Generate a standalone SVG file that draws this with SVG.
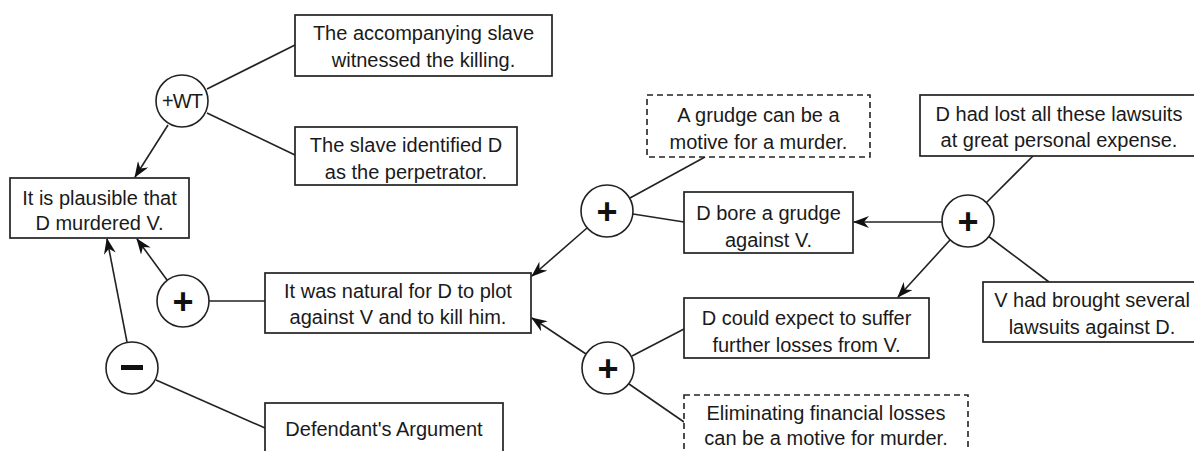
<svg xmlns="http://www.w3.org/2000/svg" width="1194" height="451" viewBox="0 0 1194 451">
<style>
  .box{fill:#fff;stroke:#222;stroke-width:1.7}
  .dash{fill:#fff;stroke:#222;stroke-width:1.6;stroke-dasharray:6 4}
  .circ{fill:#fff;stroke:#222;stroke-width:1.6}
  .t{font-family:"Liberation Sans",Arial,sans-serif;font-size:20px;fill:#1a1a1a;text-anchor:middle}
  .sym{font-family:"Liberation Sans",Arial,sans-serif;font-weight:bold;fill:#111;text-anchor:middle}
  .wt{font-family:"Liberation Sans",Arial,sans-serif;font-size:20px;fill:#1a1a1a;text-anchor:middle;letter-spacing:-1px}
  .ln{stroke:#222;stroke-width:1.6;fill:none}
  .ar{stroke:#222;stroke-width:1.6;fill:none;marker-end:url(#arr)}
</style>
<defs>
  <marker id="arr" viewBox="0 0 16 12" refX="15" refY="6" markerWidth="16" markerHeight="12" orient="auto" markerUnits="userSpaceOnUse">
    <path d="M0,0 L16,6 L0,12 L5,6 z" fill="#111"/>
  </marker>
</defs>
<rect width="1194" height="451" fill="#fff"/>

<g id="connectors">
  <line class="ar" x1="168" y1="125" x2="135" y2="177"/>
  <line class="ln" x1="207" y1="89" x2="295" y2="45"/>
  <line class="ln" x1="207" y1="113" x2="295" y2="155"/>
  <line class="ar" x1="167" y1="280" x2="137" y2="239"/>
  <line class="ar" x1="127" y1="342" x2="107" y2="239"/>
  <line class="ln" x1="209" y1="301" x2="265" y2="301"/>
  <line class="ln" x1="156" y1="380" x2="265" y2="428"/>
  <line class="ar" x1="587" y1="228" x2="532" y2="276"/>
  <line class="ln" x1="630" y1="198" x2="705" y2="157"/>
  <line class="ln" x1="633" y1="214" x2="684" y2="222"/>
  <line class="ar" x1="942" y1="222" x2="854" y2="222"/>
  <line class="ln" x1="986" y1="203" x2="1033" y2="156"/>
  <line class="ar" x1="950" y1="240" x2="898" y2="297"/>
  <line class="ln" x1="988" y1="236" x2="1049" y2="282"/>
  <line class="ar" x1="586" y1="354" x2="532" y2="318"/>
  <line class="ln" x1="632" y1="356" x2="684" y2="329"/>
  <line class="ln" x1="629" y1="384" x2="684" y2="422"/>
</g>

<g id="n-witnessed">
  <rect class="box" x="295" y="15" width="257" height="61"/>
  <text class="t" x="423.5" y="40">The accompanying slave</text>
  <text class="t" x="423.5" y="67">witnessed the killing.</text>
</g>
<g id="n-identified">
  <rect class="box" x="295" y="127" width="222" height="58"/>
  <text class="t" x="406" y="152">The slave identified D</text>
  <text class="t" x="406" y="179">as the perpetrator.</text>
</g>
<g id="n-wt">
  <circle class="circ" cx="182" cy="101" r="26"/>
  <text class="wt" x="182" y="108">+WT</text>
</g>
<g id="n-plausible">
  <rect class="box" x="10" y="178" width="179" height="60"/>
  <text class="t" x="99.5" y="205">It is plausible that</text>
  <text class="t" x="99.5" y="230">D murdered V.</text>
</g>
<g id="n-plusA">
  <circle class="circ" cx="183" cy="301" r="26"/>
  <text class="sym" font-size="36" x="183" y="314">+</text>
</g>
<g id="n-minus">
  <circle class="circ" cx="132" cy="368" r="26"/>
  <rect x="121" y="365" width="22" height="5" fill="#111"/>
</g>
<g id="n-natural">
  <rect class="box" x="265" y="273" width="266" height="60"/>
  <text class="t" x="398" y="298">It was natural for D to plot</text>
  <text class="t" x="398" y="324">against V and to kill him.</text>
</g>
<g id="n-defendant">
  <rect class="box" x="265" y="403" width="238" height="56"/>
  <text class="t" x="384" y="436">Defendant's Argument</text>
</g>
<g id="n-plusB">
  <circle class="circ" cx="607" cy="211" r="26"/>
  <text class="sym" font-size="36" x="607" y="224">+</text>
</g>
<g id="n-grudge-motive">
  <rect class="dash" x="647" y="95" width="223" height="62"/>
  <text class="t" x="758.5" y="122">A grudge can be a</text>
  <text class="t" x="758.5" y="149">motive for a murder.</text>
</g>
<g id="n-bore">
  <rect class="box" x="684" y="192" width="169" height="61"/>
  <text class="t" x="768.5" y="220">D bore a grudge</text>
  <text class="t" x="768.5" y="247">against V.</text>
</g>
<g id="n-plusC">
  <circle class="circ" cx="968" cy="221" r="26"/>
  <text class="sym" font-size="36" x="968" y="234">+</text>
</g>
<g id="n-lost">
  <rect class="box" x="920" y="95" width="280" height="61"/>
  <text class="t" x="1059" y="121">D had lost all these lawsuits</text>
  <text class="t" x="1059" y="147">at great personal expense.</text>
</g>
<g id="n-brought">
  <rect class="box" x="983" y="282" width="220" height="60"/>
  <text class="t" x="1092" y="307">V had brought several</text>
  <text class="t" x="1092" y="334">lawsuits against D.</text>
</g>
<g id="n-could">
  <rect class="box" x="684" y="298" width="245" height="60"/>
  <text class="t" x="806.5" y="325">D could expect to suffer</text>
  <text class="t" x="806.5" y="352">further losses from V.</text>
</g>
<g id="n-plusD">
  <circle class="circ" cx="608" cy="368" r="26"/>
  <text class="sym" font-size="36" x="608" y="381">+</text>
</g>
<g id="n-eliminating">
  <rect class="dash" x="684" y="395" width="284" height="58"/>
  <text class="t" x="826" y="420">Eliminating financial losses</text>
  <text class="t" x="826" y="445">can be a motive for murder.</text>
</g>
</svg>
